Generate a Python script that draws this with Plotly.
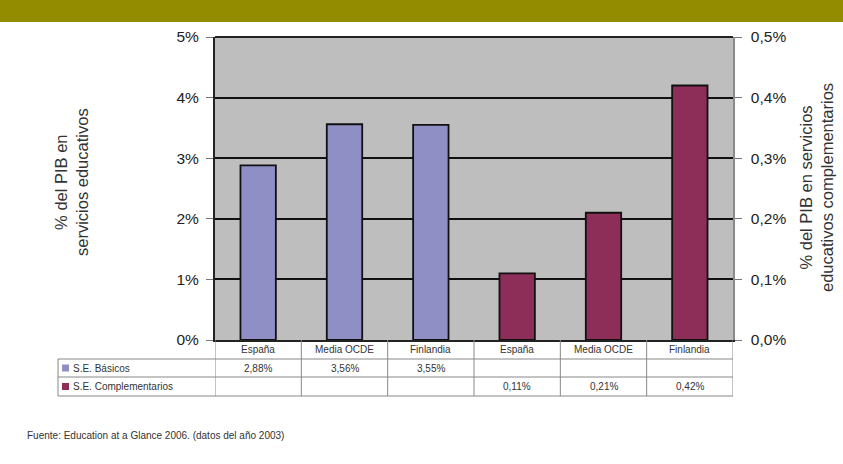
import plotly.graph_objects as go

# ---------------- data ----------------
categories = ["España", "Media OCDE", "Finlandia", "España", "Media OCDE", "Finlandia"]
series_names = ["S.E. Básicos", "S.E. Complementarios"]
basicos = [2.88, 3.56, 3.55]
complementarios = [0.11, 0.21, 0.42]
left_ticks = [0, 1, 2, 3, 4, 5]
right_ticks = [0.0, 0.1, 0.2, 0.3, 0.4, 0.5]
left_title = "% del PIB en<br>servicios educativos"
right_title = "% del PIB en servicios<br>educativos complementarios"
source_text = "Fuente: Education at a Glance 2006. (datos del año 2003)"

# ---------------- layout constants ----------------
W, H = 843, 464
PL, PR, PT, PB = 215, 733, 37, 340   # plot area in pixels
COL_BLUE = "#8F8FC6"
COL_RED = "#8C2E57"
BG = "#BEBEBE"
FONT = "Liberation Sans, Arial, sans-serif"
GRID_COL = "#888888"


def py(p):  # pixel y -> paper y
    return (PB - p) / (PB - PT)


def px(p):  # pixel x -> paper x
    return (p - PL) / (PR - PL)


idx = list(range(len(categories)))
n_b = len(basicos)
x_b = idx[:n_b]
x_c = idx[n_b:]

fig = go.Figure()
fig.add_trace(go.Bar(x=x_b, y=basicos, name=series_names[0], width=0.41,
                     marker=dict(color=COL_BLUE, line=dict(color="#111111", width=1.8)),
                     yaxis="y"))
fig.add_trace(go.Bar(x=x_c, y=complementarios, name=series_names[1], width=0.41,
                     marker=dict(color=COL_RED, line=dict(color="#111111", width=1.8)),
                     yaxis="y2"))

shapes = []
annotations = []

# top banner
shapes.append(dict(type="rect", xref="paper", yref="paper", x0=px(0), x1=px(W),
                   y0=py(0), y1=py(22), fillcolor="#938B00", line=dict(width=0), layer="above"))
# top border of plot
shapes.append(dict(type="line", xref="paper", yref="paper", x0=0, x1=1, y0=1, y1=1,
                   line=dict(color="#222222", width=2)))

# data table
row_cat = (PB, 359)
row_b = (359, 377)
row_c = (377, 396)
tbl_left = 58
for yy in [row_cat[1], row_b[1], row_c[1]]:
    shapes.append(dict(type="line", xref="paper", yref="paper", x0=px(tbl_left), x1=1,
                       y0=py(yy), y1=py(yy), line=dict(color=GRID_COL, width=1)))
for i in range(len(categories) + 1):
    shapes.append(dict(type="line", xref="x", yref="paper", x0=i - 0.5, x1=i - 0.5,
                       y0=py(PB), y1=py(row_c[1]), line=dict(color=GRID_COL, width=1)))
shapes.append(dict(type="line", xref="paper", yref="paper", x0=px(tbl_left), x1=px(tbl_left),
                   y0=py(row_b[0]), y1=py(row_c[1]), line=dict(color=GRID_COL, width=1)))

small = dict(family=FONT, size=10, color="#333333")
for i, c in enumerate(categories):
    annotations.append(dict(x=i, xref="x", y=py((row_cat[0] + row_cat[1]) / 2), yref="paper",
                            text=c, showarrow=False, font=small, xanchor="center", yanchor="middle"))
for xi, v in zip(x_b, basicos):
    annotations.append(dict(x=xi, xref="x", y=py((row_b[0] + row_b[1]) / 2), yref="paper",
                            text=f"{v:.2f}%".replace(".", ","), showarrow=False, font=small,
                            xanchor="center", yanchor="middle"))
for xi, v in zip(x_c, complementarios):
    annotations.append(dict(x=xi, xref="x", y=py((row_c[0] + row_c[1]) / 2), yref="paper",
                            text=f"{v:.2f}%".replace(".", ","), showarrow=False, font=small,
                            xanchor="center", yanchor="middle"))
for name, col, row in [(series_names[0], COL_BLUE, row_b), (series_names[1], COL_RED, row_c)]:
    ym = (row[0] + row[1]) / 2
    shapes.append(dict(type="rect", xref="paper", yref="paper", x0=px(62), x1=px(69),
                       y0=py(ym + 3.5), y1=py(ym - 3.5), fillcolor=col, line=dict(width=0)))
    annotations.append(dict(x=px(71), xref="paper", y=py(ym), yref="paper", text=name,
                            showarrow=False, font=small, xanchor="left", yanchor="middle"))

# axis titles
title_font = dict(family=FONT, size=16.5, color="#333333")
annotations.append(dict(x=px(71), xref="paper", y=py(182), yref="paper", text=left_title,
                        textangle=-90, showarrow=False, xanchor="center", yanchor="middle",
                        font=title_font))
annotations.append(dict(x=px(816), xref="paper", y=py(188), yref="paper", text=right_title,
                        textangle=-90, showarrow=False, xanchor="center", yanchor="middle",
                        font=title_font))
# source
annotations.append(dict(x=px(25), xref="paper", y=py(435), yref="paper", text=source_text,
                        showarrow=False, xanchor="left", yanchor="middle",
                        font=dict(family=FONT, size=10, color="#333333")))

tickfont = dict(family=FONT, size=15.5, color="#222222")
fig.update_layout(
    width=W, height=H,
    margin=dict(l=PL, r=W - PR, t=PT, b=H - PB, pad=0),
    paper_bgcolor="white", plot_bgcolor=BG,
    barmode="overlay", showlegend=False,
    xaxis=dict(range=[-0.5, len(categories) - 0.5], showticklabels=False, showgrid=False,
               zeroline=False, showline=True, linecolor="#222222", linewidth=2, ticks=""),
    yaxis=dict(range=[0, 5], tickvals=left_ticks, ticktext=[f"{v}%" for v in left_ticks],
               showgrid=True, gridcolor="#111111", gridwidth=2, zeroline=False,
               showline=True, linecolor="#222222", linewidth=2, ticks="outside", ticklen=7,
               tickcolor="#777777", tickfont=tickfont, ticklabelstandoff=4),
    yaxis2=dict(range=[0, 0.5], overlaying="y", side="right", tickvals=right_ticks,
                ticktext=[f"{v:.1f}%".replace(".", ",") for v in right_ticks],
                showgrid=False, zeroline=False, showline=True, linecolor="#8A8A8A", linewidth=1.5,
                ticks="outside", ticklen=7, tickcolor="#777777", tickfont=tickfont,
                ticklabelstandoff=6),
    shapes=shapes, annotations=annotations,
)

fig.write_html("out.html", config={"displayModeBar": False},
               post_script="document.body.style.margin='0';")
